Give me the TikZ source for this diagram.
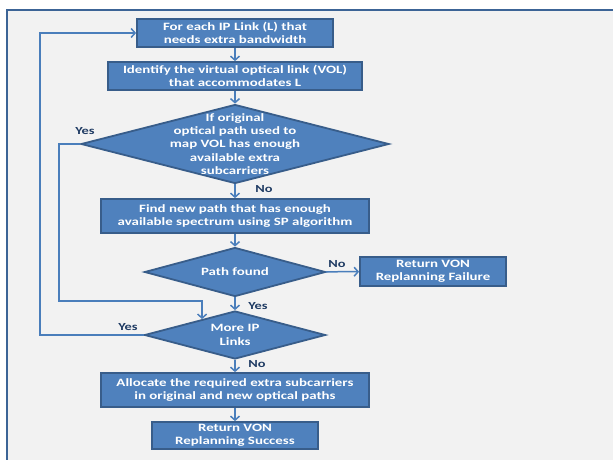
\documentclass[tikz,border=0pt]{standalone}
\usepackage{fontspec}
\setmainfont{Carlito}[FakeStretch=1.33]
\usepackage{xcolor}
\usepackage{tikz}
\usetikzlibrary{shapes.geometric}
\usetikzlibrary{arrows.meta}
\usetikzlibrary{calc}
\definecolor{boxblue}{HTML}{4F81BD}
\definecolor{boxedge}{HTML}{385D8A}
\definecolor{arrowblue}{HTML}{4A7EBB}
\definecolor{lblnavy}{HTML}{1F3B63}
\definecolor{pagegrey}{HTML}{F2F2F2}
\definecolor{frameblue}{HTML}{3C6496}

\begin{document}
\begin{tikzpicture}[x=1pt,y=-1pt,
        proc/.style={rectangle,draw=boxedge,fill=boxblue,line width=1.8pt,text=white,align=center,inner sep=0pt,font=\bfseries\fontsize{11.2}{13.3}\selectfont},
        decide/.style={diamond,draw=boxedge,fill=boxblue,line width=1.8pt,inner sep=0pt},
        dtext/.style={text=white,align=center,inner sep=0pt,font=\bfseries\fontsize{11.2}{13.3}\selectfont},
        flow/.style={draw=arrowblue,line width=1.5pt,-{Straight Barb[length=4pt,width=9pt]}},
        lbl/.style={text=lblnavy,inner sep=0pt,font=\bfseries\fontsize{10.8}{12}\selectfont}]
        \useasboundingbox (0,0) rectangle (613,459);
        \clip (0,0) rectangle (613,459);
        \draw[frameblue,line width=2.2pt,fill=pagegrey] (7,10) rectangle (640,480);

        \node[proc,minimum width=196pt,minimum height=28pt] (init) at (235,33) {For each IP Link (L) that\\needs extra bandwidth};
        \node[proc,minimum width=254pt,minimum height=28pt] (identify) at (235,76) {Identify the virtual optical link (VOL)\\that accommodates L};
        \node[decide,minimum width=308pt,minimum height=79pt,label={[dtext]center:If original\\optical path used to\\map VOL has enough\\available extra\\subcarriers}] (check) at (235,144) {};
        \node[proc,minimum width=268pt,minimum height=34pt] (findpath) at (235,216) {Find new path that has enough\\available spectrum using SP algorithm};
        \node[decide,minimum width=181pt,minimum height=49pt,label={[dtext]center:Path found}] (found) at (235,272) {};
        \node[proc,minimum width=146pt,minimum height=29pt] (fail) at (433,271.5) {Return VON\\Replanning Failure};
        \node[decide,minimum width=181pt,minimum height=48pt,label={[dtext]center:More IP\\Links}] (more) at (235,335) {};
        \node[proc,minimum width=268pt,minimum height=34pt] (alloc) at (235,390) {Allocate the required extra subcarriers\\in original and new optical paths};
        \node[proc,minimum width=166pt,minimum height=27pt] (success) at (235,435.5) {Return VON\\Replanning Success};

        \coordinate (c1) at (59,301);
        \coordinate (c2) at (40,33);
        \coordinate (entry) at ($(more.west)!0.64!(more.north)$);

        \draw[flow] (init) -- (identify);
        \draw[flow] (identify) -- (check);
        \draw[flow] (check) -- (findpath);
        \draw[flow] (findpath) -- (found);
        \draw[flow] (found) -- (fail);
        \draw[flow] (found) -- (more);
        \draw[flow] (more) -- (alloc);
        \draw[flow] (alloc) -- (success);
        \draw[flow] (check.west) -| (c1) -| (entry);
        \draw[flow] (more.west) -| (c2) -- (init.west);

        \node[lbl] (yes1) at (85,131) {Yes};
        \node[lbl] (no1) at (264,189) {No};
        \node[lbl] (no2) at (337,264) {No};
        \node[lbl] (yes2) at (258,306) {Yes};
        \node[lbl] (yes3) at (128,327) {Yes};
        \node[lbl] (no3) at (257,364) {No};
    \end{tikzpicture}
\end{document}
